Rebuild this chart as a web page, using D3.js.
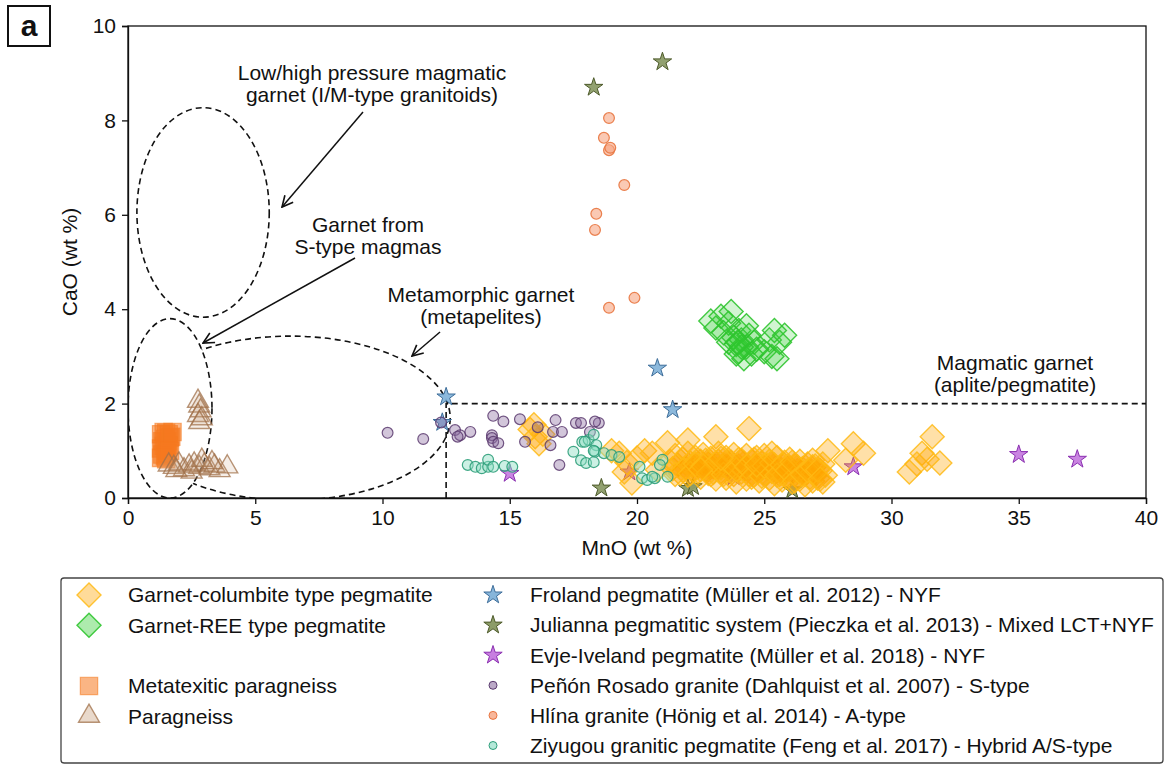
<!DOCTYPE html>
<html><head><meta charset="utf-8">
<script src="https://cdn.jsdelivr.net/npm/d3@7"></script>
<style>body{margin:0;background:#fff} text{font-family:"Liberation Sans",Arial,Helvetica,sans-serif;fill:#111}</style>
</head><body><svg id="c" width="1165" height="765"></svg>
<script>
// ---------------- DATA ----------------
const xTicks = [0,5,10,15,20,25,30,35,40];
const yTicks = [0,2,4,6,8,10];
const xLabel = "MnO (wt %)";
const yLabel = "CaO (wt %)";

const garnetColumbite = [
 [15.8,1.45],[16.0,1.3],[16.15,1.15],[15.95,1.55],[16.3,1.35],[19.0,1.0],[19.3,0.95],[19.6,0.75],[19.8,0.32],[20.0,0.85],
 [20.3,1.0],[20.6,0.95],[21.2,1.17],[22.0,1.23],[23.1,1.3],[24.4,1.47],[25.3,0.95],[26.9,0.8],[27.5,1.0],[28.5,1.15],
 [28.9,0.95],[28.2,0.8],[31.6,1.3],[31.2,0.95],[31.0,0.72],[30.7,0.55],[31.9,0.74],[31.4,0.82],[19.5,0.55],[20.8,0.6],
 [21.3,0.78],[21.4,0.62],[21.5,0.9],[21.6,0.7],[21.7,0.52],[21.8,0.82],[21.9,0.64],[22.0,0.95],[22.0,0.48],[22.1,0.74],
 [22.2,0.58],[22.3,0.86],[22.4,0.66],[22.5,0.44],[22.5,0.78],[22.6,0.92],[22.7,0.6],[22.8,0.72],[22.9,0.5],[22.9,0.84],
 [23.0,0.66],[23.1,0.4],[23.2,0.78],[23.2,0.95],[23.3,0.56],[23.4,0.7],[23.5,0.42],[23.5,0.86],[23.6,0.62],[23.7,0.76],
 [23.8,0.5],[23.8,0.92],[23.9,0.34],[24.0,0.68],[24.0,0.82],[24.1,0.55],[24.2,0.74],[24.3,0.4],[24.3,0.9],[24.4,0.62],
 [24.5,0.78],[24.6,0.48],[24.6,0.66],[24.7,0.86],[24.8,0.36],[24.8,0.58],[24.9,0.74],[25.0,0.5],[25.0,0.9],[25.1,0.64],
 [25.2,0.42],[25.2,0.78],[25.3,0.56],[25.4,0.3],[25.4,0.7],[25.5,0.86],[25.6,0.5],[25.6,0.64],[25.7,0.38],[25.8,0.76],
 [25.8,0.56],[25.9,0.44],[26.0,0.82],[26.0,0.62],[26.1,0.34],[26.2,0.7],[26.2,0.5],[26.3,0.58],[26.4,0.78],[26.4,0.4],
 [26.5,0.62],[26.6,0.28],[26.6,0.5],[26.7,0.72],[26.8,0.44],[26.8,0.6],[26.9,0.36],[27.0,0.68],[27.0,0.5],[27.1,0.42],
 [27.2,0.58],[27.3,0.34],[27.3,0.72],[27.4,0.48],[22.2,0.7],[22.7,0.8],[23.3,0.64],[23.7,0.58],[24.2,0.6],[24.7,0.56],
 [25.1,0.7],[25.5,0.6],[25.9,0.66],[26.3,0.66],[26.9,0.54],[23.0,0.54],[24.4,0.5],[25.7,0.52],[22.4,0.56],[24.9,0.62],
 [21.5,0.5],[21.8,0.58],[22.1,0.52],[22.3,0.72],[22.6,0.68],[22.8,0.52],[23.1,0.74],[23.4,0.5],[23.6,0.76],[23.9,0.6],
 [24.1,0.8],[24.3,0.66],[24.5,0.44],[24.6,0.82],[24.9,0.46],[25.0,0.68],[25.3,0.74],[25.5,0.48],[25.7,0.7],[25.9,0.58],
 [26.1,0.76],[26.2,0.36],[26.5,0.5],[26.7,0.58],[26.9,0.66],[27.1,0.6],[27.2,0.4],[23.3,0.84],[24.7,0.7],[22.5,0.6]
];
const garnetREE = [
 [22.9,3.75],[23.1,3.6],[23.3,3.85],[23.4,3.5],[23.6,3.7],[23.7,3.95],[23.8,3.4],[23.9,3.25],[24.0,3.55],[24.0,3.1],
 [24.1,3.35],[24.2,2.95],[24.3,3.2],[24.4,3.45],[24.5,3.05],[24.6,3.3],[24.3,3.65],[23.6,3.3],[25.0,3.1],[25.2,3.35],
 [25.4,3.55],[25.6,3.3],[25.8,3.45],[25.3,3.0],[25.5,2.95],[24.7,3.15],[23.9,3.05],[24.1,3.2],[23.95,3.3]
];
const metatexitic = [
 [1.3,1.35],[1.4,1.4],[1.5,1.38],[1.6,1.35],[1.35,1.2],[1.45,1.25],[1.55,1.2],[1.65,1.28],[1.3,1.05],[1.4,1.1],
 [1.5,1.0],[1.6,1.12],[1.35,0.92],[1.45,0.88],[1.55,0.95],[1.7,1.3],[1.75,1.4],[1.3,0.85],[1.5,0.82],[1.65,1.0]
];
const paragneiss = [
 [2.75,2.05],[2.8,1.95],[2.85,1.85],[2.75,1.75],[2.9,1.68],[2.8,1.6],
 [1.6,0.7],[1.8,0.65],[2.0,0.72],[2.2,0.6],[2.4,0.68],[2.6,0.72],[2.8,0.65],[3.0,0.7],[3.2,0.62],[3.4,0.68],
 [3.6,0.58],[3.9,0.66],[2.5,0.55],[2.9,0.8],[3.3,0.75],[1.9,0.58]
];
const froland = [[12.5,2.14],[12.35,1.6],[20.8,2.75],[21.4,1.87]];
const julianna = [[18.3,8.7],[21.0,9.24],[18.6,0.21],[22.0,0.2],[22.2,0.24],[26.1,0.17]];
const evje = [[15.0,0.52],[19.7,0.55],[23.8,0.45],[28.5,0.66],[35.0,0.92],[37.3,0.82]];
const penon = [
 [10.2,1.38],[11.6,1.25],[12.3,1.6],[12.85,1.44],[13.05,1.33],[13.45,1.4],[12.95,1.3],[14.35,1.74],[14.75,1.62],[14.3,1.33],
 [14.3,1.27],[14.35,1.19],[14.55,1.16],[15.4,1.67],[15.6,1.19],[16.1,1.5],[16.6,1.12],[16.8,1.65],[16.7,1.4],[17.05,1.4],
 [16.95,0.7],[17.6,1.59],[18.15,1.4],[18.5,1.59],[17.8,1.59],[18.35,1.62]
];
const hlina = [[18.9,8.05],[18.7,7.63],[18.9,7.37],[18.95,7.42],[19.5,6.63],[18.4,6.02],[18.35,5.68],[19.9,4.24],[18.9,4.03]];
const ziyugou = [
 [13.35,0.7],[13.65,0.66],[13.9,0.63],[14.15,0.66],[14.15,0.81],[14.35,0.66],[14.8,0.68],[15.1,0.66],
 [17.5,0.98],[17.8,0.8],[18.0,0.74],[17.85,1.19],[18.1,1.23],[18.3,1.34],[18.4,1.12],[18.35,0.98],[18.3,0.76],
 [17.95,1.19],[18.3,1.0],[18.7,0.95],[19.0,0.91],[19.3,0.87],[20.1,0.66],[20.2,0.42],[20.4,0.38],[20.7,0.42],
 [21.0,0.81],[21.2,0.45],[20.9,0.7],[20.6,0.45]
];
// fields (centre x, centre y, radius x, radius y in data units)
const fieldLowHigh = [2.95,6.05,2.6,2.22];
const fieldSType = [1.65,1.9,1.65,1.9];
const fieldMeta = [6.37,1.69,6.29,1.74];
const magmaticBoxCorner = [12.5,2];

const legendLeft = ["Garnet-columbite type pegmatite","Garnet-REE type pegmatite","","Metatexitic paragneiss","Paragneiss"];
const legendRight = ["Froland pegmatite (Müller et al. 2012) - NYF",
 "Julianna pegmatitic system (Pieczka et al. 2013) - Mixed LCT+NYF",
 "Evje-Iveland pegmatite (Müller et al. 2018) - NYF",
 "Peñón Rosado granite (Dahlquist et al. 2007) - S-type",
 "Hlína granite (Hönig et al. 2014) - A-type",
 "Ziyugou granitic pegmatite (Feng et al. 2017) - Hybrid A/S-type"];

// ---------------- DRAW ----------------
const svg = d3.select("#c");
const L=128,R=1146,T=26,B=498;
const x = d3.scaleLinear().domain([0,40]).range([L,R]);
const y = d3.scaleLinear().domain([0,10]).range([B,T]);
const FS = 21;

const defs = svg.append("defs");
defs.append("clipPath").attr("id","plotclip").append("rect").attr("x",L).attr("y",T).attr("width",R-L).attr("height",B-T);
const mask = defs.append("mask").attr("id","smask").attr("maskUnits","userSpaceOnUse")
  .attr("x",0).attr("y",0).attr("width",1165).attr("height",765);
mask.append("rect").attr("width",1165).attr("height",765).attr("fill","white");
mask.append("ellipse").attr("cx",x(fieldSType[0])).attr("cy",y(fieldSType[1]))
  .attr("rx",x(fieldSType[2])-x(0)).attr("ry",y(0)-y(fieldSType[3])).attr("fill","black");
defs.append("marker").attr("id","arr").attr("viewBox","0 0 12 12").attr("refX",11).attr("refY",6)
  .attr("markerWidth",13).attr("markerHeight",13).attr("markerUnits","userSpaceOnUse").attr("orient","auto")
  .append("path").attr("d","M1,1 L11,6 L1,11").attr("fill","none").attr("stroke","#111").attr("stroke-width",1.5);

// "a" panel label
svg.append("rect").attr("x",8).attr("y",6).attr("width",42).attr("height",40).attr("fill","#fff").attr("stroke","#111").attr("stroke-width",2);
svg.append("text").attr("x",29).attr("y",36).attr("text-anchor","middle").attr("font-size",30).attr("font-weight","bold").text("a");

// axes
const xa = svg.append("g").attr("transform",`translate(0,${B})`)
  .call(d3.axisBottom(x).tickValues(xTicks).tickSize(6).tickPadding(6).tickFormat(d3.format("d")));
const ya = svg.append("g").attr("transform",`translate(${L},0)`)
  .call(d3.axisLeft(y).tickValues(yTicks).tickSize(6).tickPadding(6).tickFormat(d3.format("d")));
[xa,ya].forEach(a=>{a.selectAll("text").attr("font-size",FS).attr("font-family","Liberation Sans, Arial, sans-serif").attr("fill","#111");
  a.selectAll("line,path").attr("stroke","#111").attr("stroke-width",1.3);});
svg.append("rect").attr("x",L).attr("y",T).attr("width",R-L).attr("height",B-T).attr("fill","none").attr("stroke","#111").attr("stroke-width",1.3);

svg.append("text").attr("x",(L+R)/2).attr("y",555).attr("text-anchor","middle").attr("font-size",FS).text(xLabel);
svg.append("text").attr("transform",`translate(77,${(T+B)/2}) rotate(-90)`).attr("text-anchor","middle").attr("font-size",FS).text(yLabel);

// fields
const plot = svg.append("g").attr("clip-path","url(#plotclip)");
const dash = {"stroke":"#111","stroke-width":1.6,"stroke-dasharray":"6,4","fill":"none"};
function ell(f, g){ const e=g.append("ellipse").attr("cx",x(f[0])).attr("cy",y(f[1])).attr("rx",x(f[2])-x(0)).attr("ry",y(0)-y(f[3]));
  Object.entries(dash).forEach(([k,v])=>e.attr(k,v)); return e;}
ell(fieldLowHigh, plot);
ell(fieldSType, plot);
ell(fieldMeta, plot.append("g").attr("mask","url(#smask)"));
const dl = plot.append("path").attr("d",`M${x(magmaticBoxCorner[0])},${y(0)} L${x(magmaticBoxCorner[0])},${y(magmaticBoxCorner[1])} L${x(40)},${y(magmaticBoxCorner[1])}`);
Object.entries(dash).forEach(([k,v])=>dl.attr(k,v));

// markers
const diamond = r => `M0,${-r}L${r},0L0,${r}L${-r},0Z`;
const star = d3.symbol().type(d3.symbolStar).size(105)();
const tri = d3.symbol().type(d3.symbolTriangle).size(190)();
const sq = d3.symbol().type(d3.symbolSquare).size(300)();

const S = {
 gc:{d:diamond(12),fill:"#FFA500",fo:0.34,stroke:"#FFBA14",so:0.85,sw:1.4},
 ree:{d:diamond(12),fill:"#32CD32",fo:0.22,stroke:"#2FC42F",so:0.9,sw:1.4},
 meta:{d:sq,fill:"#F5791F",fo:0.55,stroke:"#F5791F",so:0.6,sw:1.2},
 para:{d:tri,fill:"#C9A07E",fo:0.18,stroke:"#A0704A",so:0.75,sw:1.4},
 fro:{d:star,fill:"#86B5DA",fo:0.95,stroke:"#3E6E9A",so:1,sw:1},
 jul:{d:star,fill:"#8C9C68",fo:0.95,stroke:"#4D5A2A",so:1,sw:1},
 evj:{d:star,fill:"#C77EE0",fo:0.95,stroke:"#8A2FB0",so:1,sw:1},
 pen:{r:5.4,fill:"#8A6A9E",fo:0.38,stroke:"#5A3A6E",so:0.85,sw:1.2},
 hli:{r:5.4,fill:"#F6A582",fo:0.6,stroke:"#E8743E",so:0.9,sw:1.2},
 ziy:{r:5.4,fill:"#8EDDC4",fo:0.45,stroke:"#2E9E7A",so:0.9,sw:1.2}
};
function pts(data, st, g){
  if(st.r){
    g.selectAll(null).data(data).join("circle").attr("cx",d=>x(d[0])).attr("cy",d=>y(d[1])).attr("r",st.r)
     .attr("fill",st.fill).attr("fill-opacity",st.fo).attr("stroke",st.stroke).attr("stroke-opacity",st.so).attr("stroke-width",st.sw);
  } else {
    g.selectAll(null).data(data).join("path").attr("d",st.d).attr("transform",d=>`translate(${x(d[0])},${y(d[1])})`)
     .attr("fill",st.fill).attr("fill-opacity",st.fo).attr("stroke",st.stroke).attr("stroke-opacity",st.so).attr("stroke-width",st.sw);
  }
}
const mk = svg.append("g");
pts(froland,S.fro,mk.append("g"));
pts(julianna,S.jul,mk.append("g"));
pts(evje,S.evj,mk.append("g"));
pts(garnetColumbite,S.gc,mk.append("g"));
pts(garnetREE,S.ree,mk.append("g"));
pts(metatexitic,S.meta,mk.append("g"));
pts(paragneiss,S.para,mk.append("g"));
pts(penon,S.pen,mk.append("g"));
pts(hlina,S.hli,mk.append("g"));
pts(ziyugou,S.ziy,mk.append("g"));

// annotations
function lines(cx, base, arr){ arr.forEach((t,i)=>svg.append("text").attr("x",cx).attr("y",base+i*22).attr("text-anchor","middle").attr("font-size",FS).text(t)); }
lines(372,80,["Low/high pressure magmatic","garnet (I/M-type granitoids)"]);
lines(368,232,["Garnet from","S-type magmas"]);
lines(481,302,["Metamorphic garnet","(metapelites)"]);
lines(1015,370,["Magmatic garnet","(aplite/pegmatite)"]);
function arrow(x1,y1,x2,y2){ svg.append("line").attr("x1",x1).attr("y1",y1).attr("x2",x2).attr("y2",y2)
  .attr("stroke","#111").attr("stroke-width",1.5).attr("marker-end","url(#arr)"); }
arrow(363,112,282,207);
arrow(355,258,203,343);
arrow(440,332,412,356);

// legend
svg.append("rect").attr("x",61).attr("y",578).attr("width",1102).attr("height",185).attr("rx",3)
  .attr("fill","#fff").attr("stroke","#444").attr("stroke-width",1.3);
const lStyles = [S.gc,S.ree,null,S.meta,S.para];
legendLeft.forEach((t,i)=>{
  const yy = 595 + i*30.3;
  const st = lStyles[i]; if(!st) return;
  const g = svg.append("g").attr("transform",`translate(89,${yy})`);
  g.append("path").attr("d",st.d).attr("fill",st.fill).attr("fill-opacity",Math.max(st.fo,0.4)).attr("stroke",st.stroke).attr("stroke-opacity",st.so).attr("stroke-width",st.sw);
  svg.append("text").attr("x",128).attr("y",yy).attr("dy","0.35em").attr("font-size",FS).text(t);
});
const rStyles = [S.fro,S.jul,S.evj,S.pen,S.hli,S.ziy];
legendRight.forEach((t,i)=>{
  const yy = 595 + i*30.1;
  const st = rStyles[i];
  const g = svg.append("g").attr("transform",`translate(493,${yy})`);
  if(st.r) g.append("circle").attr("r",4).attr("fill",st.fill).attr("fill-opacity",st.fo+0.2).attr("stroke",st.stroke).attr("stroke-width",1);
  else g.append("path").attr("d",st.d).attr("fill",st.fill).attr("stroke",st.stroke).attr("stroke-width",st.sw);
  svg.append("text").attr("x",530).attr("y",yy).attr("dy","0.35em").attr("font-size",FS).text(t);
});
</script></body></html>
